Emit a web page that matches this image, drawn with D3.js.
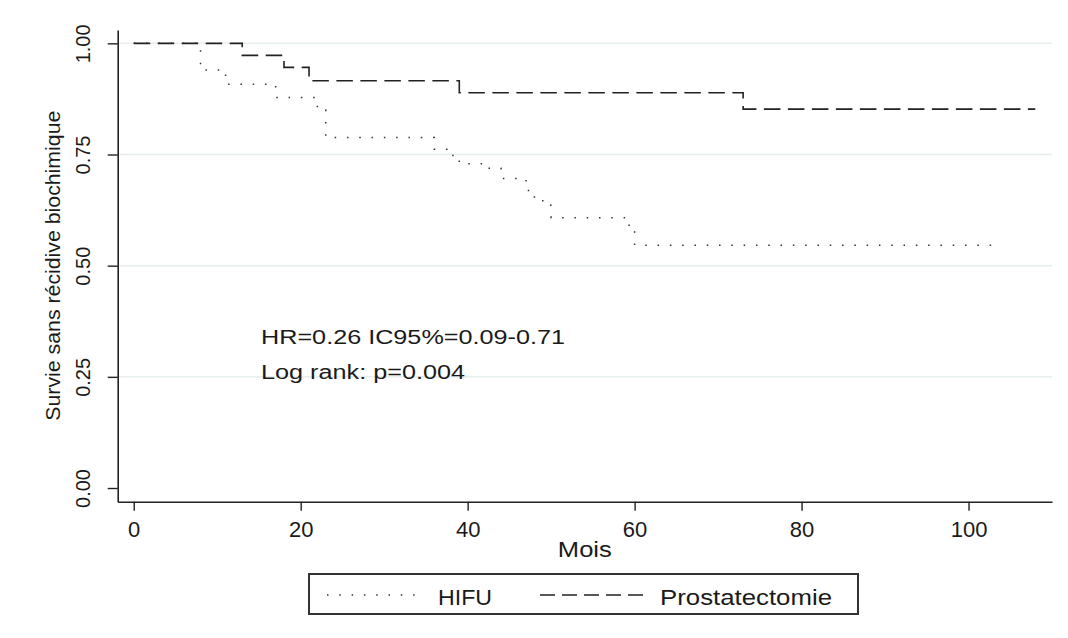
<!DOCTYPE html>
<html><head><meta charset="utf-8">
<script src="https://cdn.jsdelivr.net/npm/d3@7"></script>
<style>body{margin:0;background:#fff}text{font-family:"Liberation Sans",Arial,sans-serif;fill:#1a1a1a}</style>
</head><body>
<svg id="chart" width="1068" height="638"></svg>
<script>
// ---- data ----
const hifuTimes = [0, 8, 11, 17, 22, 23, 36, 38, 39, 42, 44, 47, 48, 49, 50, 59, 60, 103];
const hifuSurv  = [1, 0.94, 0.908, 0.878, 0.85, 0.788, 0.762, 0.748, 0.729, 0.719, 0.696, 0.669, 0.65, 0.636, 0.608, 0.591, 0.546, 0.546];
const prostTimes = [0, 13, 18, 21, 39, 73, 108];
const prostSurv  = [1, 0.973, 0.946, 0.916, 0.889, 0.852, 0.852];
const xTicks = [0, 20, 40, 60, 80, 100];
const yTicks = [0, 0.25, 0.5, 0.75, 1];
const yTickLabels = ["0.00", "0.25", "0.50", "0.75", "1.00"];
const gridValues = [0.25, 0.5, 0.75, 1];
const seriesNames = ["HIFU", "Prostatectomie"];
const annotations = ["HR=0.26 IC95%=0.09-0.71", "Log rank: p=0.004"];
const xTitle = "Mois";
const yTitle = "Survie sans récidive biochimique";

// ---- layout ----
const svg = d3.select("#chart");
const x = d3.scaleLinear().domain([-1.92, 110]).range([117.7, 1052]);
const y = d3.scaleLinear().domain([-0.031, 1.03]).range([501.8, 30]);
const axisColor = "#222";

// gridlines
svg.append("g").selectAll("line").data(gridValues).join("line")
  .attr("x1", x(-1.92)).attr("x2", x(110))
  .attr("y1", d => y(d)).attr("y2", d => y(d))
  .attr("stroke", "#e6eeee").attr("stroke-width", 1.5);

// y axis
const yAxis = svg.append("g").attr("transform", `translate(${x(-1.92)},0)`)
  .call(d3.axisLeft(y).tickValues(yTicks).tickSize(10).tickSizeOuter(0)
    .tickFormat((d, i) => yTickLabels[i]));
yAxis.select(".domain").attr("stroke", axisColor).attr("stroke-width", 1.6);
yAxis.selectAll(".tick line").attr("stroke", axisColor).attr("stroke-width", 1.4);
yAxis.selectAll(".tick text")
  .attr("transform", "rotate(-90)")
  .attr("x", 0).attr("y", -27.5).attr("dy", 0)
  .attr("text-anchor", "middle")
  .style("font-size", "20px").style("font-family", "Liberation Sans, Arial, sans-serif").attr("fill", "#1a1a1a");

// x axis
const xAxis = svg.append("g").attr("transform", `translate(0,${y(-0.031)})`)
  .call(d3.axisBottom(x).tickValues(xTicks).tickSize(9).tickSizeOuter(0));
xAxis.select(".domain").attr("stroke", axisColor).attr("stroke-width", 1.6);
xAxis.selectAll(".tick line").attr("stroke", axisColor).attr("stroke-width", 1.4);
xAxis.selectAll(".tick text")
  .attr("y", 35.5).attr("dy", 0)
  .style("font-size", "22px").style("font-family", "Liberation Sans, Arial, sans-serif").attr("fill", "#1a1a1a");

// axis titles
svg.append("text").attr("x", (x(-1.92) + x(110)) / 2).attr("y", 557)
  .attr("text-anchor", "middle").style("font-size", "22px")
  .attr("textLength", 54).attr("lengthAdjust", "spacingAndGlyphs").text(xTitle);
svg.append("text").attr("transform", `translate(60,${(y(0) + y(1)) / 2}) rotate(-90)`)
  .attr("text-anchor", "middle").style("font-size", "20px")
  .attr("textLength", 310).attr("lengthAdjust", "spacingAndGlyphs").text(yTitle);

// survival curves
const step = d3.line().curve(d3.curveStepAfter).x(d => x(d[0])).y(d => y(d[1]));
const hifuData = hifuTimes.map((t, i) => [t, hifuSurv[i]]);
const prostData = prostTimes.map((t, i) => [t, prostSurv[i]]);
svg.append("path").datum(hifuData).attr("d", step)
  .attr("fill", "none").attr("stroke", "#333").attr("stroke-width", 1.5)
  .attr("stroke-dasharray", "1.5,10.8");
svg.append("path").datum(prostData).attr("d", step)
  .attr("fill", "none").attr("stroke", "#222").attr("stroke-width", 1.6)
  .attr("stroke-dasharray", "16.5,7.5");

// annotations
svg.append("text").attr("x", 261).attr("y", 344).style("font-size", "19.5px")
  .attr("textLength", 304).attr("lengthAdjust", "spacingAndGlyphs").text(annotations[0]);
svg.append("text").attr("x", 261).attr("y", 378.5).style("font-size", "19.5px")
  .attr("textLength", 204).attr("lengthAdjust", "spacingAndGlyphs").text(annotations[1]);

// legend
const lg = svg.append("g");
lg.append("rect").attr("x", 309).attr("y", 574).attr("width", 549).attr("height", 40)
  .attr("fill", "none").attr("stroke", "#333").attr("stroke-width", 2);
lg.append("line").attr("x1", 327).attr("x2", 418).attr("y1", 595).attr("y2", 595)
  .attr("stroke", "#333").attr("stroke-width", 1.5).attr("stroke-dasharray", "1.5,10.8");
lg.append("text").attr("x", 438).attr("y", 605).style("font-size", "22px")
  .attr("textLength", 54).attr("lengthAdjust", "spacingAndGlyphs").text(seriesNames[0]);
lg.append("line").attr("x1", 540).attr("x2", 643).attr("y1", 595).attr("y2", 595)
  .attr("stroke", "#222").attr("stroke-width", 1.6).attr("stroke-dasharray", "15,7");
lg.append("text").attr("x", 660).attr("y", 605).style("font-size", "22px")
  .attr("textLength", 172).attr("lengthAdjust", "spacingAndGlyphs").text(seriesNames[1]);
</script>
</body></html>
